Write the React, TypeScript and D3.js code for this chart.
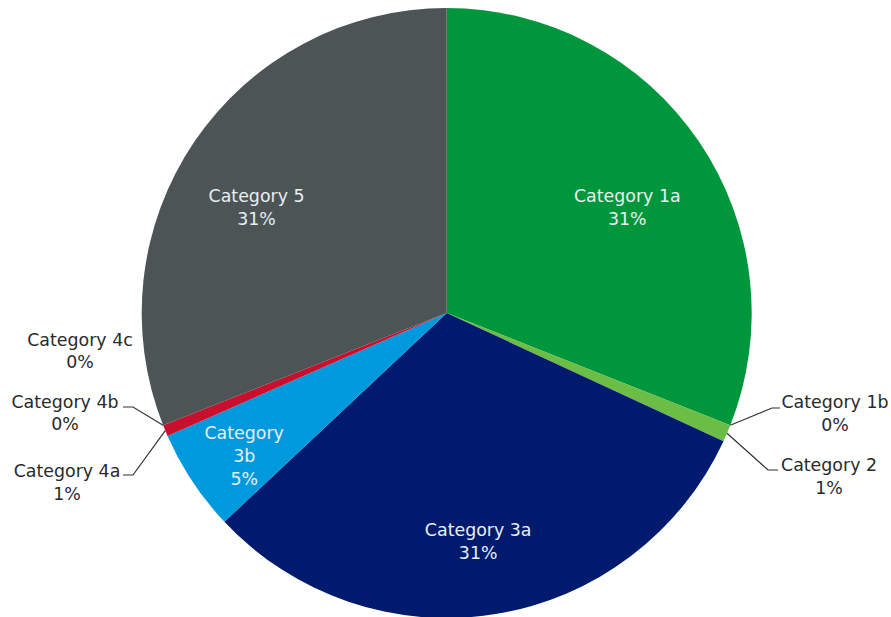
import React from "react";
import * as d3 from "d3";

const categories = ["Category 1a", "Category 1b", "Category 2", "Category 3a", "Category 3b", "Category 4a", "Category 4b", "Category 4c", "Category 5"];
const values = [31.0, 0.0, 0.9, 31.1, 5.4, 0.6, 0.0, 0.0, 31.0];
const percentLabels = ["31%", "0%", "1%", "31%", "5%", "1%", "0%", "0%", "31%"];
const colors = ["#00963c", "#6cbd45", "#6cbd45", "#001a6e", "#0099dd", "#c8102e", "#c8102e", "#c8102e", "#4c5456"];

const W = 891, H = 617;
const cx = 446.7, cy = 313, R = 305;
const FONT = "'DejaVu Sans', sans-serif";
const FS = 17.4;
const LH = 23;

// inside label layout: radius fraction, name lines, nudges
const insideLayout: Record<string, { rf: number; lines: string[]; dx: number; dy: number }> = {
  "Category 1a": { rf: 0.70, lines: ["Category 1a"], dx: 4, dy: 14 },
  "Category 3a": { rf: 0.75, lines: ["Category 3a"], dx: -5, dy: 3 },
  "Category 3b": { rf: 0.80, lines: ["Category", "3b"], dx: 1, dy: 8.5 },
  "Category 5": { rf: 0.73, lines: ["Category 5"], dx: -6, dy: 20 },
};
// outside label layout: elbow, end and first baseline
const outsideLayout: Record<string, { elbow?: [number, number]; end?: [number, number]; text: [number, number]; lh: number }> = {
  "Category 1b": { elbow: [772, 408], end: [780, 408], text: [835, 408], lh: 23 },
  "Category 2": { elbow: [768, 470], end: [778, 470], text: [829, 471], lh: 23 },
  "Category 4a": { elbow: [133, 475], end: [123, 475], text: [67, 477], lh: 23 },
  "Category 4b": { elbow: [133, 407], end: [123, 407], text: [65, 408], lh: 22 },
  "Category 4c": { text: [80, 346], lh: 22 },
};

export default function App() {
  const pie = d3.pie<number>().sort(null).value((d) => d);
  const arcs = pie(values);
  const arc = d3.arc<d3.PieArcDatum<number>>().innerRadius(0).outerRadius(R);

  return (
    <svg width={W} height={H} style={{ position: "absolute", left: 0, top: 0 }} fontFamily={FONT} fontSize={FS}>
      <rect width={W} height={H} fill="#ffffff" />
      <g transform={`translate(${cx},${cy})`}>
        {arcs.map((a, i) => (
          <path key={i} d={arc(a) || ""} fill={colors[i]} />
        ))}
      </g>
      {arcs.map((a, i) => {
        const name = categories[i];
        const mid = (a.startAngle + a.endAngle) / 2;
        const ins = insideLayout[name];
        if (ins) {
          const r = R * ins.rf;
          const x = cx + r * Math.sin(mid) + ins.dx;
          const y = cy - r * Math.cos(mid) + ins.dy;
          const lines = [...ins.lines, percentLabels[i]];
          const y0 = y - ((lines.length - 1) * LH) / 2 + FS * 0.35;
          return (
            <text key={"l" + i} x={x} textAnchor="middle" fill="#e8eef2">
              {lines.map((t, k) => (
                <tspan key={k} x={x} y={y0 + k * LH}>{t}</tspan>
              ))}
            </text>
          );
        }
        const out = outsideLayout[name];
        if (!out) return null;
        const sx = cx + R * Math.sin(mid);
        const sy = cy - R * Math.cos(mid);
        return (
          <g key={"l" + i}>
            {out.elbow && out.end && (
              <polyline
                points={`${sx},${sy} ${out.elbow[0]},${out.elbow[1]} ${out.end[0]},${out.end[1]}`}
                fill="none"
                stroke="#333333"
                strokeWidth={1.2}
              />
            )}
            <text textAnchor="middle" fill="#2a2a2a">
              <tspan x={out.text[0]} y={out.text[1]}>{name}</tspan>
              <tspan x={out.text[0]} y={out.text[1] + out.lh}>{percentLabels[i]}</tspan>
            </text>
          </g>
        );
      })}
    </svg>
  );
}
